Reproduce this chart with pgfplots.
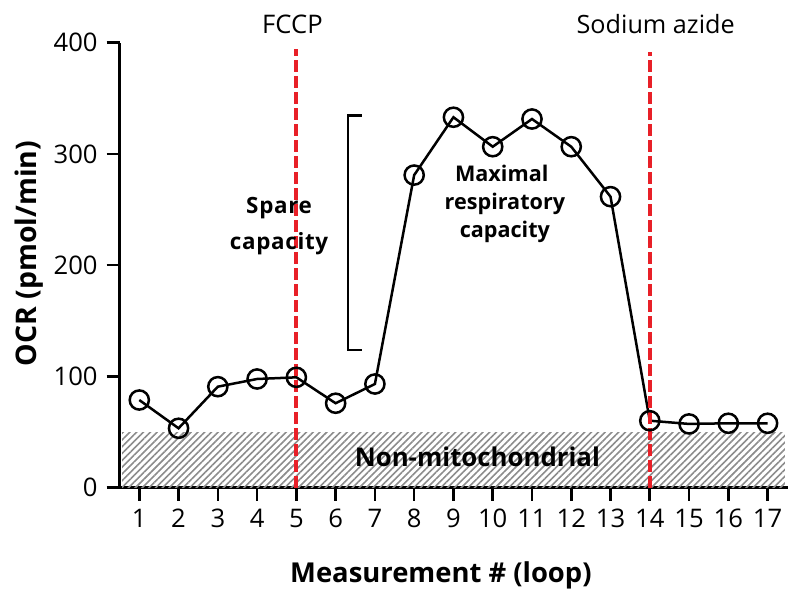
\documentclass[border=0pt]{standalone}
\usepackage{pgfplots}
\pgfplotsset{compat=1.18}
\usepackage{fontspec}
\setmainfont{Open Sans}
\usetikzlibrary{patterns.meta}
\definecolor{azred}{RGB}{232,32,40}
\definecolor{hatchgray}{RGB}{140,140,140}
\begin{document}
\begin{tikzpicture}
\begin{axis}[
  scale only axis, width=334.2pt, height=222.5pt,
  xmin=0.5, xmax=17.52, ymin=0, ymax=400,
  axis x line=bottom, axis y line=left,
  axis line style={-, line width=1.4pt},
  xtick={1,...,17}, ytick={0,100,200,300,400},
  tick align=outside, major tick length=6.5pt,
  tick style={line width=1.3pt, black},
  clip=false,
  /pgf/number format/assume math mode=true,
  ticklabel style={font=\fontsize{12.8}{15}\selectfont},
  xticklabel style={yshift=-0.5pt},
  yticklabel style={xshift=-1pt},
]
% non-mitochondrial baseline area
\addplot[draw=none, pattern={Lines[angle=45,distance=2.4pt,line width=0.8pt]}, pattern color=hatchgray]
  coordinates {(0.56,49.5) (17.44,49.5)} \closedcycle;
% bracket (spare capacity)
\addplot[black, line width=1.2pt, mark=none]
  coordinates {(6.66,334.4) (6.31,334.4) (6.31,123.8) (6.66,123.8)};
% OCR series
\addplot[black, line width=1.25pt, mark=o, mark size=4.8pt, mark options={line width=1.25pt}]
  coordinates {
  (1,78.8) (2,53.4) (3,90.8) (4,97.7) (5,99.2) (6,75.9) (7,93.2)
  (8,281) (9,333) (10,306.5) (11,331.4) (12,306.5) (13,261.6)
  (14,60.2) (15,57.3) (16,57.9) (17,57.9)};
% injection lines
\addplot[azred, line width=1.9pt, dash pattern=on 6pt off 2pt, mark=none]
  coordinates {(5,0) (5,394)};
\addplot[azred, line width=1.9pt, dash pattern=on 6pt off 2pt, mark=none]
  coordinates {(14,0) (14,392)};
% texts
\node[anchor=base, font=\fontsize{12.8}{15}\selectfont] at (axis cs:4.90,408.7) {FCCP};
\node[anchor=base, font=\fontsize{12.6}{15}\selectfont] at (axis cs:14.15,408.7) {Sodium azide};
\node[anchor=base, font=\fontsize{11.2}{13}\selectfont\bfseries\addfontfeatures{LetterSpace=3}] at (axis cs:4.56,246.5) {Spare};
\node[anchor=base, font=\fontsize{11.2}{13}\selectfont\bfseries\addfontfeatures{LetterSpace=3}] at (axis cs:4.56,214.3) {capacity};
\node[anchor=base, font=\fontsize{10.8}{13}\selectfont\bfseries] at (axis cs:10.23,275) {Maximal};
\node[anchor=base, font=\fontsize{10.8}{13}\selectfont\bfseries] at (axis cs:10.31,250.2) {respiratory};
\node[anchor=base, font=\fontsize{10.8}{13}\selectfont\bfseries] at (axis cs:10.31,224.6) {capacity};
\node[anchor=base, font=\fontsize{12.9}{15}\selectfont\bfseries] at (axis cs:9.61,18.6) {Non-mitochondrial};
\node[anchor=base, font=\fontsize{13.7}{17}\selectfont\bfseries] at (axis cs:8.68,-84.8) {Measurement \# (loop)};
\node[anchor=base, rotate=90, font=\fontsize{14.2}{17}\selectfont\bfseries] at (axis cs:-1.605,210.5) {OCR (pmol/min)};
\coordinate (bbll) at (axis cs:-2.547,-97.35);
\coordinate (bbur) at (axis cs:17.825,438.4);
\end{axis}
\pgfresetboundingbox
\path[use as bounding box] (bbll) rectangle (bbur);
\end{tikzpicture}
\end{document}
